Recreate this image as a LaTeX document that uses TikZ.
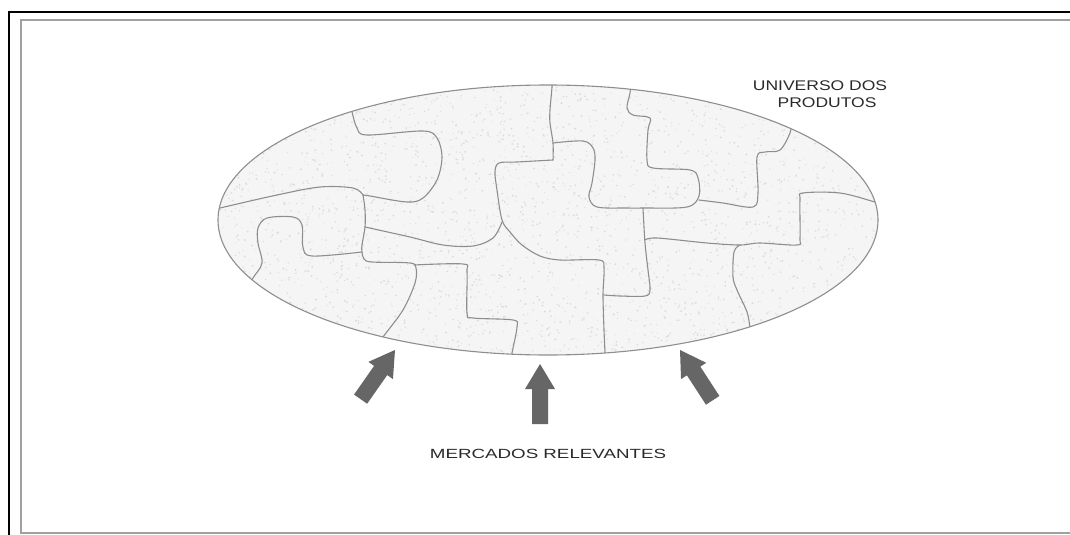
\documentclass[tikz,border=0pt]{standalone}
\usepackage{fontspec}
\setmainfont{Liberation Sans}
\usetikzlibrary{calc}
\definecolor{edge}{HTML}{8E8E8E}
\definecolor{tile}{HTML}{F5F5F5}
\definecolor{speck}{HTML}{DCDCDC}
\definecolor{pointer}{HTML}{666666}
\definecolor{framegray}{HTML}{A0A0A0}
\definecolor{ink}{HTML}{2A2A2A}
\tikzset{
  cut/.style={draw=edge, line width=1.1pt, line cap=round, line join=round},
  pointerfill/.style={fill=pointer, draw=none},
  caption/.style={text=ink, inner sep=0pt, anchor=base, font=\fontsize{14}{18}\selectfont},
  fatarrow/.pic={\fill[pointerfill] (0,0) -- (15,25) -- (8,25) -- (8,60) -- (-8,60) -- (-8,25) -- (-15,25) -- cycle;}
}
\begin{document}
\begin{tikzpicture}[x=1pt,y=-1pt]
\useasboundingbox (0,0) rectangle (1070,535);
\fill[white] (0,0) rectangle (1070,535);
% double frame
\draw[black, line width=2pt] (9,535) -- (9,12) -- (1070,12);
\draw[framegray, line width=2pt] (1070,20) -- (21,20) -- (21,533) -- (1070,533);

% the product universe
\fill[tile] (548,220) ellipse [x radius=330, y radius=135];
\begin{scope}
\clip (548,220) ellipse [x radius=330, y radius=135];
% stippled texture of the pieces
\pgfmathsetseed{7}
\foreach \i in {1,...,2200}{
  \pgfmathsetmacro\ang{rnd*360}
  \pgfmathsetmacro\rr{sqrt(rnd)}
  \pgfmathsetmacro\dot{0.5+0.6*rnd}
  \fill[speck] ({548+330*\rr*cos(\ang)},{220+135*\rr*sin(\ang)}) circle (\dot);
}
% left half of the puzzle
\draw[cut] plot[smooth, tension=0.55] coordinates {(350,104) (352,112) (357,128) (367,135) (423,131) (437,138) (442,157) (437,180) (423,198) (407,202) (370,196) (363,195)};
\draw[cut] plot[smooth, tension=0.55] coordinates {(212,210) (220,208) (277,195) (320,187) (353,188) (363,195)};
\draw[cut] plot[smooth, tension=0.55] coordinates {(363,195) (365,210) (365,227) (362,245) (362,252) (364,259) (372,262) (410,263) (416,268) (415,283) (403,310) (383,337) (378,346)};
\draw[cut] plot[smooth, tension=0.55] coordinates {(248,288) (253,278) (262,263) (258,243) (258,228) (267,218) (293,217) (302,225) (303,247) (312,256) (362,252)};
\draw[cut] plot[smooth, tension=0.55] coordinates {(365,227) (410,237) (443,245) (473,246) (493,238) (502,222)};
\draw[cut] plot[smooth, tension=0.55] coordinates {(414,265) (463,264) (467,272) (467,313) (473,318) (513,320) (517,327) (512,353) (511,362)};
% middle
\draw[cut] plot[smooth, tension=0.55] coordinates {(553,160) (517,162) (499,163) (495,172) (497,190) (502,220) (510,232) (522,245) (540,256) (560,260) (599,260) (604,268) (603,295) (604,330) (605,353) (605,362)};
\draw[cut] plot[smooth, tension=0.55] coordinates {(552,78) (552,87) (550,110) (550,123) (553,143) (553,160)};
\draw[cut] plot[smooth, tension=0.55] coordinates {(553,143) (583,141) (593,148) (595,160) (592,183) (589,197) (597,207) (627,208) (643,208) (687,207) (699,196) (698,178) (690,170) (653,168) (647,160) (648,130) (650,118) (633,115) (627,108) (630,93) (631,82)};
% right half
\draw[cut] plot[smooth, tension=0.55] coordinates {(699,200) (723,203) (753,207) (758,193) (757,157) (765,152) (780,150) (790,133) (792,120)};
\draw[cut] plot[smooth, tension=0.55] coordinates {(643,208) (645,243) (648,270) (650,290) (645,296) (620,296) (604,295)};
\draw[cut] plot[smooth, tension=0.55] coordinates {(645,240) (657,238) (707,243) (740,245) (760,243) (797,245) (800,238) (800,200) (803,193) (840,193) (875,202) (886,205)};
\draw[cut] plot[smooth, tension=0.55] coordinates {(740,245) (734,252) (733,277) (737,290) (747,312) (750,327) (753,336)};
\end{scope}
\draw[cut] (548,220) ellipse [x radius=330, y radius=135];

% relevant markets pointing at the universe
\pic[rotate=-35] at (395,350) {fatarrow};
\pic at (540,364) {fatarrow};
\pic[rotate=33] at (680,350) {fatarrow};

% labels
\node[caption] (universe) at (820,90) {\scalebox{1.25}[1]{UNIVERSO DOS}};
\node[caption] (products) at (827,107) {\scalebox{1.25}[1]{PRODUTOS}};
\node[caption, font=\fontsize{13.3}{16}\selectfont] (markets) at (548,458) {\scalebox{1.41}[1]{MERCADOS RELEVANTES}};
\end{tikzpicture}
\end{document}
